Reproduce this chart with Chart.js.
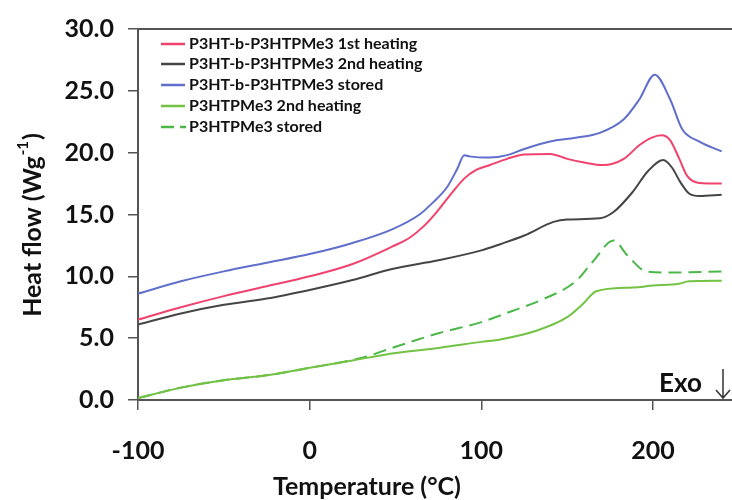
<!DOCTYPE html>
<html>
<head>
<meta charset="utf-8">
<script src="https://cdn.jsdelivr.net/npm/chart.js@4"></script>
<style>
  html, body { margin: 0; padding: 0; background: #fff; overflow: hidden; }
  #wrap { width: 732px; height: 500px; }
</style>
</head>
<body>
<div id="wrap"><canvas id="dsc"></canvas></div>
<script>
// DSC traces (temperature in °C, heat flow in W/g)
const labels = [
    'P3HT-b-P3HTPMe3 1st heating',
    'P3HT-b-P3HTPMe3 2nd heating',
    'P3HT-b-P3HTPMe3 stored',
    'P3HTPMe3 2nd heating',
    'P3HTPMe3 stored'
];

const firstHeatT = [-100, -75, -50, -25, 0, 25, 48, 58, 66, 74, 82, 90, 97, 105, 115, 125, 140, 150, 160, 171, 183, 192, 199, 205, 210, 215, 220, 227, 240];
const firstHeatV = [6.5, 7.5, 8.4, 9.2, 10.0, 11.0, 12.4, 13.1, 14.0, 15.2, 16.6, 17.9, 18.6, 19.0, 19.5, 19.85, 19.9, 19.5, 19.2, 19.0, 19.5, 20.6, 21.2, 21.4, 21.0, 19.6, 18.1, 17.55, 17.5];

const secondHeatT = [-100, -75, -50, -25, 0, 25, 48, 75, 100, 111, 125, 142, 150, 169, 177, 188, 197, 206, 211, 216, 221, 227, 240];
const secondHeatV = [6.1, 7.0, 7.7, 8.2, 8.9, 9.7, 10.6, 11.3, 12.1, 12.6, 13.3, 14.4, 14.6, 14.7, 15.2, 16.8, 18.5, 19.4, 18.8, 17.6, 16.7, 16.5, 16.6];

const storedT = [-100, -75, -50, -25, 0, 25, 48, 64, 72, 80, 86, 90, 93, 105, 115, 125, 140, 155, 169, 183, 192, 201, 210, 217, 227, 240];
const storedV = [8.6, 9.6, 10.4, 11.1, 11.8, 12.7, 13.8, 15.0, 16.0, 17.2, 18.7, 19.8, 19.7, 19.6, 19.8, 20.3, 20.9, 21.2, 21.6, 22.7, 24.3, 26.3, 24.3, 21.9, 20.9, 20.1];

const homoHeatT = [-100, -75, -50, -25, 0, 25, 50, 75, 100, 111, 132, 150, 159, 167, 188, 200, 215, 221, 240];
const homoHeatV = [0.15, 1.0, 1.6, 2.0, 2.6, 3.2, 3.8, 4.2, 4.7, 4.9, 5.6, 6.7, 7.75, 8.8, 9.1, 9.25, 9.4, 9.6, 9.65];

const homoStoredT = [-100, -75, -50, -25, 0, 30, 50, 75, 100, 118, 136, 155, 165, 177, 185, 196, 208, 240];
const homoStoredV = [0.15, 1.0, 1.6, 2.0, 2.6, 3.4, 4.3, 5.4, 6.3, 7.2, 8.15, 9.6, 11.2, 12.9, 11.7, 10.4, 10.3, 10.4];

const yTicks = [0, 5, 10, 15, 20, 25, 30];
const xTicks = [-100, 0, 100, 200];

function pts(t, v) {
    return t.map((x, i) => ({ x: x, y: v[i] }));
}

function series(label, t, v, color, dash) {
    return {
        label: label,
        data: pts(t, v),
        borderColor: color,
        backgroundColor: color,
        borderWidth: 2,
        borderDash: dash || [],
        pointRadius: 0,
        cubicInterpolationMode: 'monotone',
        fill: false
    };
}

const FONT = 'Lato, "Open Sans", sans-serif';

// legend, axis titles, top frame line and the "Exo" marker
const decor = {
    id: 'decor',
    afterDraw(chart) {
        const ctx = chart.ctx;
        const a = chart.chartArea;
        ctx.save();

        // top frame
        ctx.strokeStyle = '#555';
        ctx.lineWidth = 2;
        ctx.beginPath();
        ctx.moveTo(a.left, a.top);
        ctx.lineTo(a.right, a.top);
        ctx.stroke();

        // legend
        const rowY = [44, 64, 85, 106, 127];
        ctx.font = 'bold 16px ' + FONT;
        ctx.textBaseline = 'middle';
        chart.data.datasets.forEach((ds, i) => {
            ctx.strokeStyle = ds.borderColor;
            ctx.lineWidth = 2.5;
            ctx.setLineDash(ds.borderDash.length ? [13, 6] : []);
            ctx.beginPath();
            ctx.moveTo(161, rowY[i]);
            ctx.lineTo(ds.borderDash.length ? 186 : 185, rowY[i]);
            ctx.stroke();
            ctx.setLineDash([]);
            ctx.fillStyle = '#111';
            ctx.fillText(ds.label, 189, rowY[i]);
        });

        // x title
        ctx.fillStyle = '#111';
        ctx.font = 'bold 25px ' + FONT;
        ctx.textAlign = 'center';
        ctx.textBaseline = 'middle';
        ctx.fillText('Temperature (°C)', 367, 487);

        // y title with superscript
        ctx.save();
        ctx.translate(33, 226);
        ctx.rotate(-Math.PI / 2);
        ctx.textAlign = 'left';
        const main = 'Heat flow (Wg';
        ctx.font = 'bold 25px ' + FONT;
        const w1 = ctx.measureText(main).width;
        ctx.font = 'bold 15px ' + FONT;
        const w2 = ctx.measureText('-1').width;
        ctx.font = 'bold 25px ' + FONT;
        const w3 = ctx.measureText(')').width;
        let x0 = -(w1 + w2 + w3) / 2;
        ctx.fillText(main, x0, 0);
        ctx.font = 'bold 15px ' + FONT;
        ctx.fillText('-1', x0 + w1 + 1, -10);
        ctx.font = 'bold 25px ' + FONT;
        ctx.fillText(')', x0 + w1 + w2 + 2, 0);
        ctx.restore();

        // Exo marker
        ctx.textAlign = 'left';
        ctx.font = 'bold 26px ' + FONT;
        ctx.fillText('Exo', 659, 384);
        ctx.strokeStyle = '#333';
        ctx.lineWidth = 1.5;
        ctx.beginPath();
        ctx.moveTo(723, 369);
        ctx.lineTo(723, 398);
        ctx.moveTo(716, 390);
        ctx.lineTo(723, 398);
        ctx.lineTo(730, 390);
        ctx.stroke();

        ctx.restore();
    }
};

new Chart(document.getElementById('dsc'), {
    type: 'line',
    data: {
        datasets: [
            series(labels[0], firstHeatT, firstHeatV, '#f0426c'),
            series(labels[1], secondHeatT, secondHeatV, '#454545'),
            series(labels[2], storedT, storedV, '#5f6fcb'),
            series(labels[3], homoHeatT, homoHeatV, '#72c243'),
            series(labels[4], homoStoredT, homoStoredV, '#4cb749', [13, 7])
        ]
    },
    options: {
        responsive: true,
        maintainAspectRatio: false,
        animation: false,
        layout: { padding: { top: 25, right: 0, left: 0, bottom: 0 } },
        plugins: {
            legend: { display: false },
            tooltip: { enabled: false }
        },
        scales: {
            x: {
                type: 'linear',
                min: -100,
                max: 246,
                afterBuildTicks: s => { s.ticks = xTicks.map(v => ({ value: v })); },
                afterFit: s => { s.height = 100; },
                ticks: {
                    color: '#111',
                    padding: 26,
                    font: { family: FONT, size: 25, weight: 'bold' }
                },
                grid: { drawOnChartArea: false, tickLength: 10, color: '#555', lineWidth: 1.5 },
                border: { color: '#555', width: 2 }
            },
            y: {
                min: 0,
                max: 30,
                afterBuildTicks: s => { s.ticks = yTicks.map(v => ({ value: v })); },
                afterFit: s => { s.width = 138; },
                ticks: {
                    color: '#111',
                    padding: 14,
                    callback: v => v.toFixed(1),
                    font: { family: FONT, size: 25, weight: 'bold' }
                },
                grid: { drawOnChartArea: false, tickLength: 10, color: '#555', lineWidth: 1.5 },
                border: { color: '#555', width: 2 }
            }
        }
    },
    plugins: [decor]
});
</script>
</body>
</html>
